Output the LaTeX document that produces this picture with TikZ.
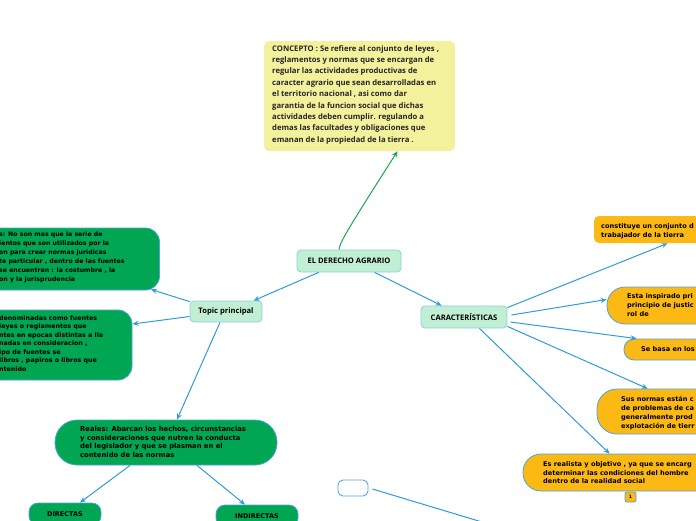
\documentclass[tikz,border=0pt]{standalone}
\usepackage{fontspec}
\setmainfont{DejaVu Sans}
\newfontfamily\osans{Open Sans}
\usetikzlibrary{arrows.meta}
\definecolor{lnblue}{HTML}{2E9BE0}
\definecolor{bdblue}{HTML}{4BA3DE}
\definecolor{dgreen}{HTML}{00A651}
\definecolor{arrgreen}{HTML}{17A84B}
\definecolor{mint}{HTML}{C1EFD3}
\definecolor{mintbd}{HTML}{8ACFE6}
\definecolor{cyel}{HTML}{F4F19C}
\definecolor{oyel}{HTML}{FDB913}
\tikzset{
  conn/.style={draw=lnblue, line width=1pt, -{Stealth[length=6pt,width=5pt]}},
  gconn/.style={draw=arrgreen, line width=1pt, -{Stealth[length=6pt,width=5pt]}},
  mainbox/.style={draw=mintbd, fill=mint, rounded corners=4pt, line width=0.8pt, inner sep=0pt, font=\osans\bfseries\fontsize{7.6}{9}\selectfont, text=black},
  gbox/.style={draw=bdblue, fill=dgreen, line width=0.8pt, inner sep=0pt},
  ybox/.style={draw=bdblue, fill=oyel, line width=0.8pt, inner sep=0pt},
  txt/.style={anchor=north west, align=left, inner sep=0pt, text=black, font=\bfseries\fontsize{6.2}{9}\selectfont},
}
\begin{document}
\begin{tikzpicture}[x=1pt,y=-1pt]
\useasboundingbox (0,0) rectangle (696,520);
\clip (0,0) rectangle (696,520);

% concept
\node[draw=none, fill=cyel, rounded corners=5pt, minimum width=191pt, minimum height=110pt, inner sep=0pt] (concept) at (359.5,96) {};
\node[anchor=north west, align=left, inner sep=0pt, text=black!85, font=\osans\bfseries\fontsize{7.7}{11.4}\selectfont] (concepttxt) at (272,45) {CONCEPTO : Se refiere al conjunto de leyes ,\\reglamentos y normas que se encargan de\\regular las actividades productivas de\\caracter agrario que sean desarrolladas en\\el territorio nacional , asi como dar\\garantia de la funcion social que dichas\\actividades deben cumplir. regulando a\\demas las facultades y obligaciones que\\emanan de la propiedad de la tierra .};

% main nodes
\node[mainbox, minimum width=104pt, minimum height=22pt] (der) at (349,261) {EL DERECHO AGRARIO};
\node[mainbox, minimum width=72pt, minimum height=21pt] (top) at (226,311.5) {Topic principal};
\node[mainbox, minimum width=86pt, minimum height=22pt] (car) at (464,317) {CARACTERÍSTICAS};

% left green boxes
\node[gbox, rounded corners=14pt, minimum width=219pt, minimum height=62pt] (f1) at (50,259) {};
\node[txt] (f1t) at (-1,232) {s: No son mas que la serie de\\ientos que son utilizados por la\\on para crear normas juridicas\\te particular , dentro de las fuentes\\ se encuentran : la costumbre , la\\on y la jurisprudencia};
\node[gbox, rounded corners=14pt, minimum width=192pt, minimum height=70pt] (f2) at (36,345) {};
\node[txt, font=\bfseries\fontsize{6.3}{8.5}\selectfont] (f2t) at (-1,315.5) {denominadas como fuentes\\leyes o reglamentos que\\ntes en epocas distintas a lla\\nadas en consideracion ,\\ipo de fuentes se\\libros , papiros o libros que\\ntenido};
\node[gbox, rounded corners=22pt, minimum width=222pt, minimum height=45pt] (real) at (166,442.5) {};
\node[txt, font=\bfseries\fontsize{6.8}{8.7}\selectfont] (realt) at (80,426) {Reales: Abarcan los hechos, circunstancias\\y consideraciones que nutren la conducta\\del legislador y que se plasman en el\\contenido de las normas};
\node[gbox, rounded corners=9pt, minimum width=72pt, minimum height=22pt, font=\bfseries\fontsize{6.5}{8}\selectfont] (dir) at (65,514) {DIRECTAS};
\node[gbox, rounded corners=9pt, minimum width=82pt, minimum height=22pt, font=\bfseries\fontsize{6.5}{8}\selectfont] (indir) at (257,516) {INDIRECTAS};

% right yellow boxes
\node[ybox, draw=none, rounded corners=5pt, minimum width=166pt, minimum height=27pt] (ya) at (677,229.5) {};
\node[txt, font=\bfseries\fontsize{6.6}{9}\selectfont] (yat) at (601,223.5) {constituye un conjunto d\\trabajador de la tierra};
\node[ybox, rounded corners=18pt, minimum width=173pt, minimum height=37pt] (yb) at (693.5,305.5) {};
\node[txt, font=\bfseries\fontsize{6.6}{9}\selectfont] (ybt) at (627,293.5) {Esta inspirado pri\\principio de justic\\rol de};
\node[ybox, rounded corners=10pt, minimum width=136pt, minimum height=21pt] (yc) at (692,349.5) {};
\node[txt, font=\bfseries\fontsize{6.6}{9}\selectfont] (yct) at (641,346.5) {Se basa en los};
\node[ybox, rounded corners=20pt, minimum width=183pt, minimum height=45pt] (yd) at (688.5,411.5) {};
\node[txt, font=\bfseries\fontsize{6.6}{8.7}\selectfont] (ydt) at (621,396.5) {Sus normas están c\\de problemas de ca\\generalmente prod\\explotación de tierr};
\node[ybox, rounded corners=18pt, minimum width=237pt, minimum height=37pt] (ye) at (641.5,472.5) {};
\node[txt, font=\bfseries\fontsize{6.6}{8.5}\selectfont] (yet) at (543,461.5) {Es realista y objetivo , ya que se encarg\\determinar las condiciones del hombre\\dentro de la realidad social};
\node[ybox, rounded corners=2pt, minimum width=11pt, minimum height=10pt, font=\bfseries\fontsize{4.5}{5}\selectfont] (cnt) at (630.5,497) {1};

% empty node
\node[draw=bdblue, fill=white, rounded corners=5pt, line width=0.8pt, minimum width=30pt, minimum height=16pt, inner sep=0pt] (empty) at (353,488) {};
\coordinate (offb) at (482,522);

% connectors
\draw[gconn] ([xshift=-10pt]der.north) .. controls (340,243) and (342,238) .. ([xshift=38pt]concept.south);
\draw[conn] ([xshift=22pt]der.south west) -- ([xshift=64pt]top.north west);
\draw[conn] ([xshift=78pt]der.south west) -- ([xshift=21pt]car.north west);
\draw[conn] ([yshift=-1pt]top.north west) -- ([xshift=-9pt,yshift=1pt]f1.south east);
\draw[conn] ([yshift=-5pt]top.west) -- ([yshift=21pt]f2.east);
\draw[conn] ([xshift=-6pt]top.south) -- ([xshift=11pt]real.north);
\draw[conn] ([xshift=-36pt]real.south) -- ([xshift=15pt]dir.north);
\draw[conn] ([xshift=31pt]real.south) -- ([xshift=-12pt]indir.north);
\draw[conn] ([yshift=-2pt]car.north east) -- ([xshift=74pt]ya.south west);
\draw[conn] ([xshift=4pt,yshift=2pt]car.east) -- ([yshift=6pt]yb.west);
\draw[conn] ([xshift=3pt,yshift=-5pt]car.east) -- ([xshift=13pt]yc.north west);
\draw[conn] ([yshift=2pt]car.south east) -- ([xshift=51pt]yd.north west);
\draw[conn] ([xshift=-28pt]car.south east) -- ([xshift=87pt]ye.north west);
\draw[draw=lnblue, line width=1pt] ([xshift=4pt,yshift=-1pt]empty.east) -- (offb);
\end{tikzpicture}
\end{document}
